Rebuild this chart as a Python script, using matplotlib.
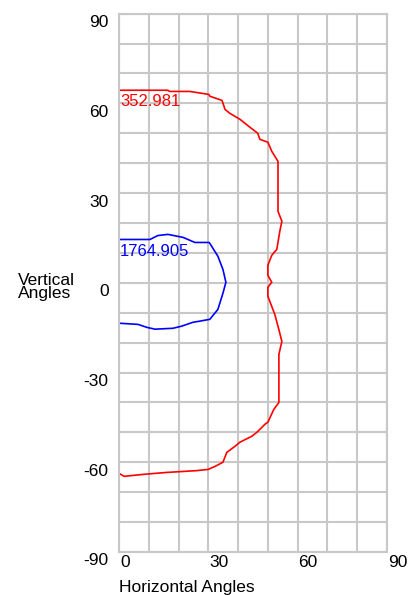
import matplotlib
matplotlib.use('Agg')
import matplotlib.pyplot as plt

# contour data (horizontal angle, vertical angle)
redLevel = "352.981"
red_x = [0, 16.4, 17, 23.8, 27, 30.2, 30.5, 34.6, 35.6, 37.2, 40.6, 44, 46.6, 47.3, 50, 51.3,
         53.4, 53.4, 54.7, 54, 53, 51.3, 50, 50, 51.3, 50, 50, 52.3, 53.4, 54.7, 53.7, 53.7,
         52, 50, 49, 46.3, 44.6, 40.6, 38.9, 36.2, 34.9, 32.2, 29.9, 26, 16, 8.7, 1.7, 0]
red_y = [64.4, 64.4, 64.0, 64.0, 63.5, 63, 62.4, 61, 58, 56.7, 54.7, 52, 50, 48, 47, 44,
         40.6, 23.9, 20.6, 17.2, 11.2, 9.2, 5.9, 2.5, 0.2, -1.5, -4.5, -10.5, -14.5, -19.6, -23.9, -40,
         -42.3, -46.6, -47.3, -50, -51.3, -53.3, -54.7, -56.7, -60, -61.4, -62.4, -62.8, -63.4, -64, -64.7, -63.7]

blueLevel = "1764.905"
blue_x = [0, 10.4, 13, 16.4, 21.5, 25.5, 30.2, 30.5, 33.2, 34.9, 35.9, 34.9, 33.2, 30.5,
          27.2, 24.8, 21, 18.1, 12.1, 9.4, 6.4, 0]
blue_y = [14.5, 14.5, 15.8, 16.2, 15.2, 13.5, 13.5, 13.2, 8.9, 4.5, 0.2, -3.5, -8.9, -12.2,
          -12.8, -13.2, -14.5, -15.2, -15.5, -14.9, -13.9, -13.5]

xTicks = [0, 30, 60, 90]
yTicks = [90, 60, 30, 0, -30, -60, -90]

plt.rcParams['font.family'] = ['Liberation Sans', 'DejaVu Sans']

fig = plt.figure(figsize=(4.17, 5.95), dpi=100)
ax = fig.add_axes([0.2854, 0.0723, 0.6426, 0.9047])

ax.set_xlim(0, 90)
ax.set_ylim(-90, 90)
ax.set_xticks(range(0, 91, 10))
ax.set_yticks(range(-90, 91, 10))
ax.grid(True, color='#c8c8c8', linewidth=1.5)
ax.set_axisbelow(True)
for s in ax.spines.values():
    s.set_color('#c8c8c8')
    s.set_linewidth(1.5)
ax.tick_params(length=0, labelbottom=False, labelleft=False)

ax.plot(red_x, red_y, color='#ff0000', linewidth=1.2)
ax.plot(blue_x, blue_y, color='#0000ff', linewidth=1.2)
ax.text(0.4, 63.2, redLevel, color='#ff0000', fontsize=12, ha='left', va='top')
ax.text(0.4, 13.0, blueLevel, color='#0000ff', fontsize=12, ha='left', va='top')

# tick labels placed like the original program does
for t in xTicks:
    ax.text(t + 0.3, -91, str(t), fontsize=12.5, ha='left', va='top')
for t in yTicks:
    ax.text(-3.5, t - 0.5, str(t), fontsize=12.5, ha='right', va='top')

ax.text(0, -99.5, "Horizontal Angles", fontsize=12.5, ha='left', va='top')
ax.text(-34, -1.5, "Vertical\nAngles", fontsize=12.5, ha='left', va='center', linespacing=0.85)

fig.savefig('out.png', dpi=100)
